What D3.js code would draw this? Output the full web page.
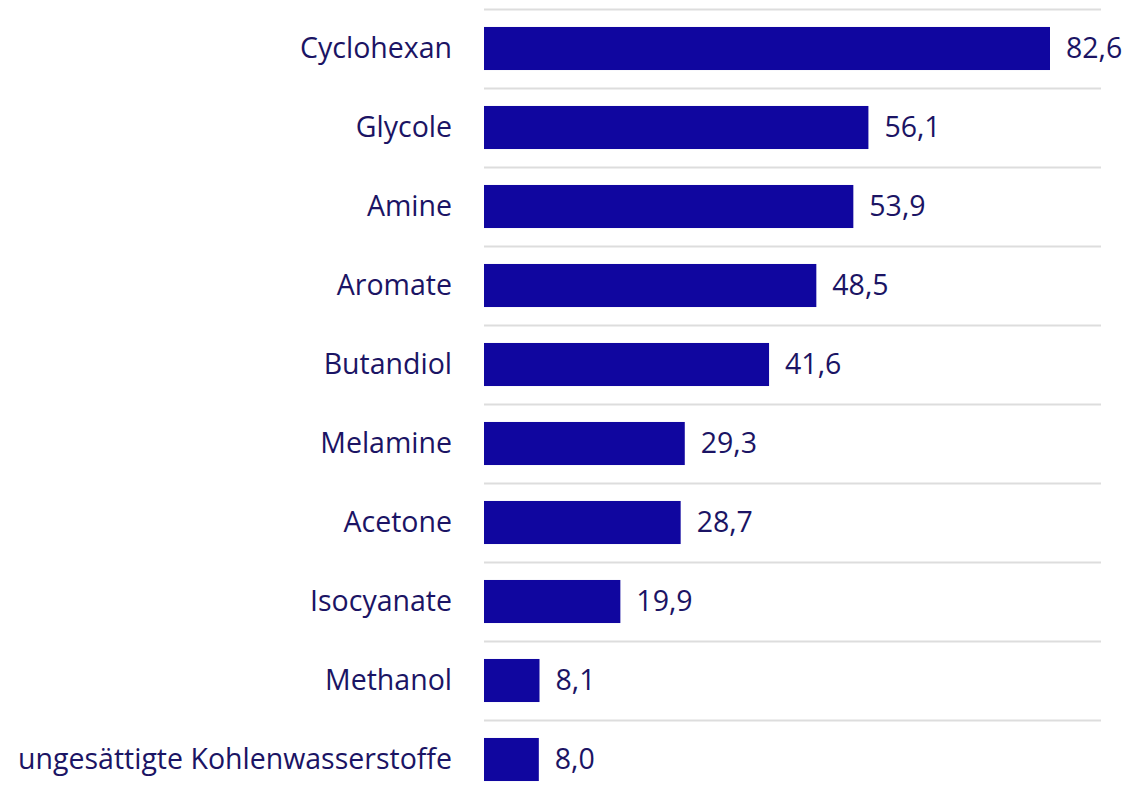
<!DOCTYPE html>
<meta charset="utf-8">
<style>
  body { margin: 0; background: #fff; }
  text { font-family: "Open Sans", sans-serif; }
</style>
<svg width="1127" height="795"></svg>
<script src="https://cdn.jsdelivr.net/npm/d3@7"></script>
<script>

var categories = ["Cyclohexan", "Glycole", "Amine", "Aromate", "Butandiol", "Melamine",
                  "Acetone", "Isocyanate", "Methanol", "ungesättigte Kohlenwasserstoffe"];
var values = [82.6, 56.1, 53.9, 48.5, 41.6, 29.3, 28.7, 19.9, 8.1, 8.0];

var svg = d3.select("svg"),
    marginLeft = 484,
    gridRight = 1101,
    rowTop = 9,
    rowBottom = 799,
    fontSize = 28.5;

var data = categories.map(function(c, i) { return {name: c, value: values[i]}; });

var x = d3.scaleLinear()
    .domain([0, 82.6])
    .range([marginLeft, 1050]);

var y = d3.scaleBand()
    .domain(categories)
    .range([rowTop, rowBottom])
    .paddingInner(0.455)
    .paddingOuter(0.2275);

var fmt = function(v) { return d3.format(".1f")(v).replace(".", ","); };
var lineY = function(d) { return Math.round(y(d) - y.step() * y.paddingInner() / 2) + 0.5; };

// grid lines at top of each row
svg.append("g")
  .selectAll("line")
  .data(categories)
  .enter().append("line")
    .attr("x1", marginLeft)
    .attr("x2", gridRight)
    .attr("y1", lineY)
    .attr("y2", lineY)
    .attr("stroke", "#dddddd")
    .attr("stroke-width", 2);

svg.append("g")
  .selectAll("rect")
  .data(data)
  .enter().append("rect")
    .attr("x", x(0))
    .attr("y", function(d) { return y(d.name); })
    .attr("width", function(d) { return x(d.value) - x(0); })
    .attr("height", y.bandwidth())
    .attr("fill", "#10069f");

svg.append("g")
  .selectAll("text")
  .data(data)
  .enter().append("text")
    .attr("x", marginLeft - 32)
    .attr("y", function(d) { return y(d.name) + y.bandwidth() / 2; })
    .attr("dy", "0.35em")
    .attr("text-anchor", "end")
    .attr("font-size", fontSize)
    .attr("fill", "#1b1464")
    .text(function(d) { return d.name; });

svg.append("g")
  .selectAll("text")
  .data(data)
  .enter().append("text")
    .attr("x", function(d) { return x(d.value) + 16; })
    .attr("y", function(d) { return y(d.name) + y.bandwidth() / 2; })
    .attr("dy", "0.35em")
    .attr("font-size", fontSize)
    .attr("fill", "#1b1464")
    .text(function(d) { return fmt(d.value); });

</script>
